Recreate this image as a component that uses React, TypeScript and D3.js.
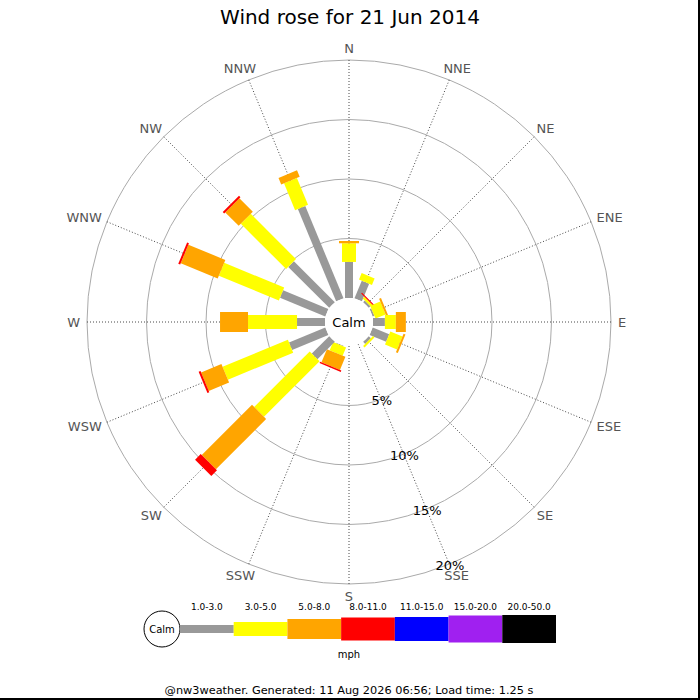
import * as d3 from "d3";

const directions = ["N", "NNE", "NE", "ENE", "E", "ESE", "SE", "SSE", "S", "SSW", "SW", "WSW", "W", "WNW", "NW", "NNW"];
const speedBins = ["1.0-3.0", "3.0-5.0", "5.0-8.0", "8.0-11.0", "11.0-15.0", "15.0-20.0", "20.0-50.0"];

// percent of time per direction, one array per speed bin
const bin1to3 = [3.03, 1.6, 0.2, 0.15, 1.0, 1.5, 0.25, 0, 0, 0.05, 2.07, 3.3, 2.35, 4.12, 4.87, 8.4];
const bin3to5 = [1.57, 0.59, 0.2, 0.92, 0.92, 1.1, 0.17, 0, 0, 0.75, 6.6, 5.94, 4.12, 5.46, 5.38, 2.44];
const bin5to8 = [0.19, 0, 0, 0.17, 0.84, 0.17, 0, 0, 0, 1.2, 5.97, 1.85, 2.35, 3.36, 1.6, 0.59];
const bin8to11 = [0, 0, 0.1, 0, 0, 0, 0, 0, 0, 0.12, 0.67, 0.17, 0, 0.17, 0.17, 0];
const bin11to15 = [0, 0, 0, 0, 0, 0, 0, 0, 0, 0, 0, 0, 0, 0, 0, 0];
const bin15to20 = [0, 0, 0, 0, 0, 0, 0, 0, 0, 0, 0, 0, 0, 0, 0, 0];
const bin20to50 = [0, 0, 0, 0, 0, 0, 0, 0, 0, 0, 0, 0, 0, 0, 0, 0];

const ringTicks = [5, 10, 15, 20];

const series = [bin1to3, bin3to5, bin5to8, bin8to11, bin11to15, bin15to20, bin20to50];
const binColors = ["#999999", "#ffff00", "#ffa500", "#ff0000", "#0000ff", "#a020f0", "#000000"];
const binWidths = [8, 14, 20, 23, 24, 27, 28];

const W = 700, H = 700;
const cx = 349, cy = 322;
const calmR = 24, outerR = 262;
const font = "DejaVu Sans, sans-serif";

// rough DejaVu Sans glyph widths (em) for compass labels
const glyphW: any = { N: 0.748, E: 0.632, S: 0.635, W: 0.989 };

export default function App() {
    const rScale = d3.scaleLinear().domain([0, 20]).range([calmR, outerR]);
    const angle = (i: number) => i * 22.5;
    const rad = (deg: number) => (deg * Math.PI) / 180;

    // stacked segments for each direction
    const segments: any[] = [];
    directions.forEach((dir, i) => {
        let acc = 0;
        series.forEach((s, b) => {
            const v = s[i];
            if (v <= 0) return;
            segments.push({ dir, i, b, r0: rScale(acc), r1: rScale(acc + v) });
            acc += v;
        });
    });

    const legendX = d3.scaleBand().domain(speedBins).range([180, 556]);
    const legendY = 629;

    return (
        <svg width={W} height={H} style={{ position: "absolute", left: 0, top: 0, background: "#fff" }} fontFamily={font}>
            <rect x={0} y={0} width={W} height={H} fill="#fff" />
            <text x={350} y={17} textAnchor="middle" dominantBaseline="central" fontSize={20}>Wind rose for 21 Jun 2014</text>

            {/* range circles */}
            {ringTicks.map(t => (
                <circle key={t} cx={cx} cy={cy} r={rScale(t)} fill="none" stroke="#aaaaaa" strokeWidth={1} />
            ))}

            {/* spokes */}
            {directions.map((d, i) => {
                const a = rad(angle(i));
                return (
                    <line key={d}
                        x1={cx + calmR * Math.sin(a)} y1={cy - calmR * Math.cos(a)}
                        x2={cx + outerR * Math.sin(a)} y2={cy - outerR * Math.cos(a)}
                        stroke="#333" strokeWidth={0.9} strokeDasharray="1,2" />
                );
            })}

            {/* compass labels */}
            {directions.map((d, i) => {
                const a = rad(angle(i));
                const w = d.split("").reduce((s, c) => s + glyphW[c] * 13, 0);
                const ex = cx + outerR * Math.sin(a), ey = cy - outerR * Math.cos(a);
                const x = ex + Math.sin(a) * (7 + w / 2);
                const y = ey - Math.cos(a) * (7 + 5);
                return (
                    <text key={d} x={x} y={y} textAnchor="middle" dominantBaseline="central" fontSize={13} fill="#555">{d}</text>
                );
            })}

            {/* bars */}
            {segments.map((s, k) => (
                <g key={k} transform={`translate(${cx},${cy}) rotate(${angle(s.i)})`}>
                    <rect x={-binWidths[s.b] / 2} y={-s.r1} width={binWidths[s.b]} height={s.r1 - s.r0} fill={binColors[s.b]} />
                </g>
            ))}

            <circle cx={cx} cy={cy} r={calmR} fill="#fff" />
            <text x={cx} y={cy} textAnchor="middle" dominantBaseline="central" fontSize={13}>Calm</text>

            {/* percent labels along SSE */}
            {ringTicks.map(t => {
                const a = rad(157.5);
                const r = rScale(t) + 2;
                return (
                    <text key={t} x={cx + r * Math.sin(a)} y={cy - r * Math.cos(a)} textAnchor="middle" dominantBaseline="central" fontSize={13}>{t}%</text>
                );
            })}

            {/* legend */}
            <circle cx={162} cy={legendY} r={18} fill="#fff" stroke="#000" strokeWidth={1} />
            <text x={162} y={legendY} textAnchor="middle" dominantBaseline="central" fontSize={10}>Calm</text>
            {speedBins.map((b, k) => (
                <g key={b}>
                    <rect x={legendX(b)} y={legendY - binWidths[k] / 2} width={legendX.bandwidth()} height={binWidths[k]} fill={binColors[k]} />
                    <text x={(legendX(b) as number) + legendX.bandwidth() / 2} y={607} textAnchor="middle" dominantBaseline="central" fontSize={9}>{b}</text>
                </g>
            ))}
            <text x={349} y={654} textAnchor="middle" dominantBaseline="central" fontSize={10}>mph</text>

            <text x={349} y={690} textAnchor="middle" dominantBaseline="central" fontSize={11.3}>@nw3weather. Generated: 11 Aug 2026 06:56; Load time: 1.25 s</text>

            <line x1={699} y1={0} x2={699} y2={H} stroke="#000" strokeWidth={2} />
            <line x1={0} y1={699} x2={W} y2={699} stroke="#000" strokeWidth={2} />
        </svg>
    );
}
